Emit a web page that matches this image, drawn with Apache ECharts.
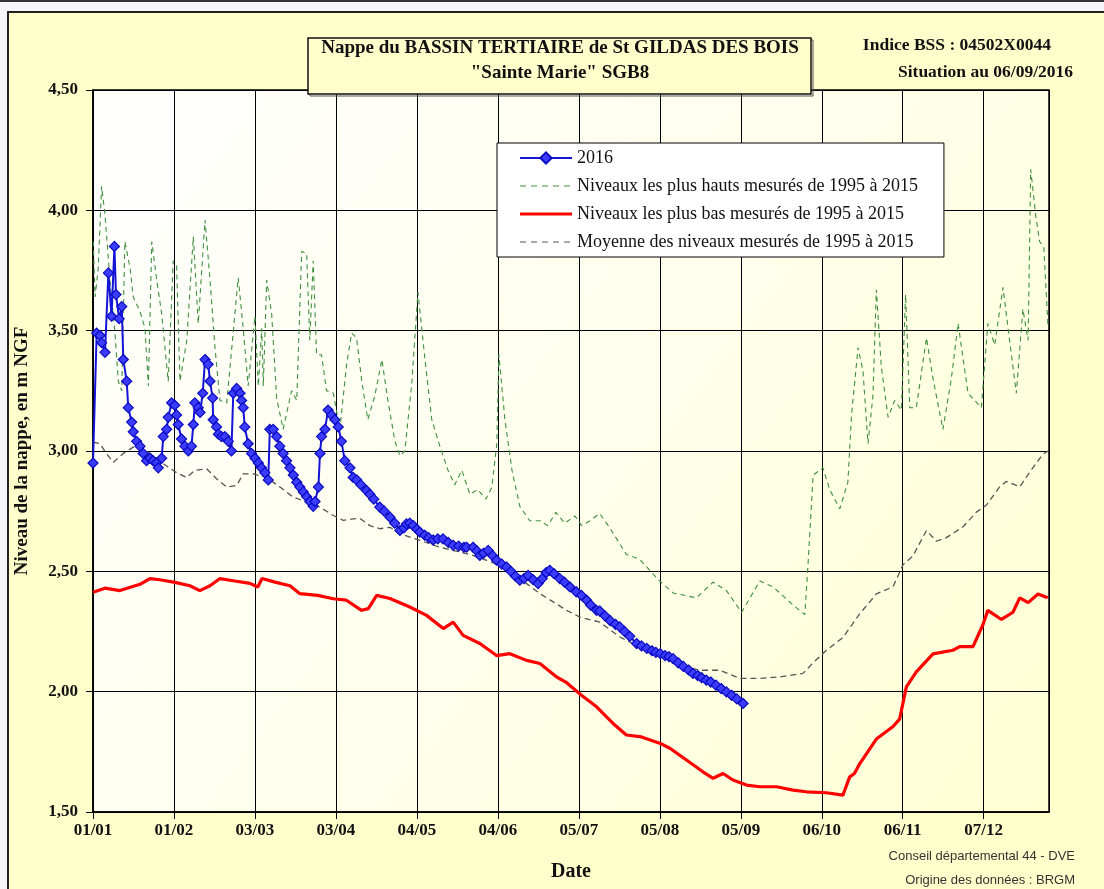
<!DOCTYPE html>
<html><head><meta charset="utf-8">
<script src="https://cdn.jsdelivr.net/npm/echarts@6/dist/echarts.min.js"></script>
<style>html,body{margin:0;padding:0;background:#fff}#c{width:1104px;height:889px}</style>
</head><body><div id="c"></div>
<script>
// Tick labels of the date axis (one every 31 days from 01/01)
const xTickLabels = ['01/01','01/02','03/03','03/04','04/05','04/06','05/07','05/08','05/09','06/10','06/11','07/12'];
const legendNames = ['2016','Niveaux les plus hauts mesurés de 1995 à 2015','Niveaux les plus bas mesurés de 1995 à 2015','Moyenne des niveaux mesurés de 1995 à 2015'];

// [day of year, level m NGF]
const series2016 = [[0,2.95],[1.4,3.49],[2.7,3.48],[3.3,3.45],[4.6,3.41],[5.9,3.74],[7.1,3.56],[8.2,3.85],[8.8,3.65],[10,3.55],[11,3.60],[11.6,3.38],[12.9,3.29],[13.5,3.18],[14.8,3.12],[15.4,3.08],[16.7,3.04],[18,3.02],[19.2,2.99],[20.5,2.96],[21.8,2.97],[23,2.96],[24.3,2.95],[25,2.93],[26.3,2.97],[26.9,3.06],[28.2,3.09],[28.8,3.14],[30.1,3.20],[31.3,3.19],[32,3.15],[32.6,3.11],[33.9,3.05],[35.2,3.02],[36.5,3.00],[37.7,3.02],[38.4,3.11],[39,3.20],[40.3,3.18],[41,3.16],[42,3.24],[42.9,3.38],[44.1,3.36],[44.8,3.29],[45.8,3.22],[46,3.13],[47.3,3.10],[48,3.07],[49.2,3.06],[50.5,3.06],[51.8,3.04],[53,3.00],[53.7,3.24],[55,3.26],[56.3,3.24],[56.9,3.21],[57.5,3.18],[58.1,3.10],[59.4,3.03],[60.7,2.99],[62,2.97],[63.3,2.95],[64.5,2.93],[65.8,2.91],[67.1,2.88],[67.7,3.09],[69,3.09],[70.3,3.06],[71.5,3.02],[72.8,2.99],[74.1,2.96],[75.4,2.93],[76.7,2.90],[78,2.87],[79.2,2.85],[80.5,2.83],[81.8,2.81],[83,2.79],[84.3,2.77],[85,2.79],[86.3,2.85],[86.9,2.99],[87.5,3.06],[88.8,3.09],[90,3.17],[91.3,3.15],[92.6,3.13],[93.9,3.10],[95.1,3.04],[96.4,2.96],[98.4,2.93],[99.6,2.89],[101,2.88],[102.5,2.86],[104.7,2.836],[106,2.82],[107.5,2.80],[109.8,2.767],[111.5,2.75],[113.7,2.725],[115.5,2.70],[117.5,2.67],[119,2.68],[120,2.697],[121.3,2.70],[122.6,2.69],[124,2.675],[125.1,2.663],[127,2.65],[128.5,2.64],[130.2,2.63],[132,2.635],[134,2.635],[136,2.62],[137.9,2.608],[140,2.605],[142,2.60],[143,2.60],[145.5,2.60],[147,2.585],[148.1,2.566],[149.5,2.575],[151.3,2.587],[153,2.565],[154.5,2.546],[156.5,2.53],[158.3,2.518],[160,2.50],[161.7,2.48],[163.4,2.463],[165,2.47],[166.6,2.483],[168.5,2.465],[170.4,2.449],[172,2.47],[173.5,2.495],[174.9,2.504],[176.5,2.49],[178.7,2.47],[180.5,2.455],[182.6,2.435],[185,2.415],[187,2.40],[189,2.38],[190.5,2.36],[192.8,2.338],[194,2.335],[196,2.315],[198,2.295],[200,2.28],[201.7,2.269],[203.5,2.25],[205.5,2.23],[208.1,2.20],[210,2.19],[212,2.18],[214,2.17],[215.5,2.163],[217.2,2.158],[219,2.15],[220.5,2.145],[222.1,2.137],[224,2.12],[226,2.105],[228,2.09],[229.7,2.076],[231.5,2.067],[233,2.058],[234.8,2.048],[236.5,2.04],[238.5,2.027],[240.5,2.013],[242.5,1.999],[244.5,1.985],[246.5,1.97],[248.9,1.951]];

const seriesMax = [[0.1,3.87],[0.8,3.64],[2.0,3.76],[3.3,4.10],[4.6,3.98],[6.5,3.71],[8.4,3.49],[9.7,3.29],[11,3.25],[12.2,3.87],[14.2,3.76],[15.4,3.64],[18,3.58],[19.9,3.51],[21.2,3.27],[22.5,3.87],[24.4,3.71],[26.3,3.57],[28.8,3.29],[30.7,3.79],[32,3.77],[33.3,3.29],[35.9,3.46],[38.4,3.89],[40.3,3.53],[42.9,3.96],[44.8,3.71],[46.7,3.43],[48.6,3.21],[51.2,3.20],[55.6,3.72],[57.5,3.51],[59.4,3.27],[62,3.56],[63.3,3.27],[64.6,3.51],[65.2,3.27],[66.5,3.71],[68.4,3.57],[70.3,3.22],[72.8,3.09],[76,3.25],[78,3.21],[79.9,3.83],[81.8,3.82],[83,3.46],[84.3,3.79],[85.6,3.40],[87.5,3.40],[89.4,3.25],[92,3.24],[94.5,3.09],[97.1,3.36],[99,3.49],[100.9,3.47],[102.9,3.29],[105.2,3.13],[107.9,3.23],[110.6,3.38],[112.9,3.21],[115.6,3.04],[117.5,2.98],[119.4,3.0],[122.1,3.29],[124.4,3.66],[127.1,3.38],[129.7,3.13],[132.8,3.02],[135.9,2.92],[138.5,2.86],[141.2,2.92],[144.3,2.82],[147.3,2.84],[150.4,2.80],[152.7,2.85],[154.6,3.03],[155.4,3.40],[157.7,3.13],[160.4,2.92],[163.4,2.77],[167.2,2.71],[171.1,2.71],[174.1,2.69],[177.2,2.745],[180.6,2.70],[184.5,2.73],[187.1,2.69],[190.2,2.71],[194,2.74],[197.9,2.68],[204.2,2.57],[209.3,2.55],[216.9,2.46],[222.1,2.41],[231,2.39],[237.4,2.455],[242.5,2.42],[248.3,2.33],[255.3,2.46],[260.4,2.435],[268,2.36],[272.5,2.32],[273.7,2.52],[275.7,2.90],[279.5,2.93],[282,2.84],[285.9,2.76],[289,2.87],[290.4,3.15],[292.9,3.43],[294.8,3.33],[296.7,3.03],[298.6,3.23],[299.9,3.67],[301.8,3.35],[304.4,3.14],[306.9,3.21],[309.5,3.17],[311.1,3.65],[312.7,3.18],[315.2,3.18],[319.1,3.47],[321.6,3.30],[325.4,3.09],[328.6,3.30],[331.2,3.53],[335,3.24],[340.1,3.18],[342.6,3.53],[345.2,3.44],[348.4,3.68],[350.9,3.46],[353.5,3.24],[356,3.59],[358,3.46],[359,4.17],[360.9,3.98],[362.4,3.87],[364,3.85],[365.6,3.52]];

const seriesMin = [[0,2.413],[4.6,2.43],[10.3,2.42],[18,2.446],[21.8,2.47],[25.6,2.465],[31.4,2.454],[37.1,2.44],[40.9,2.42],[44.8,2.44],[48.6,2.47],[54.3,2.46],[60.1,2.45],[63.1,2.435],[64.7,2.47],[69.7,2.455],[75.4,2.44],[79.2,2.407],[86,2.40],[92,2.386],[97,2.38],[102.8,2.338],[105.4,2.345],[108.6,2.40],[113.7,2.387],[121.3,2.352],[127.7,2.317],[134.1,2.262],[137.9,2.289],[141.7,2.234],[148.1,2.20],[154.5,2.15],[159.6,2.158],[166,2.13],[171.1,2.117],[177.5,2.061],[181,2.04],[187,1.985],[192.8,1.937],[199.1,1.868],[204.2,1.82],[210,1.812],[217.2,1.785],[221,1.764],[227.2,1.716],[233.5,1.667],[237.4,1.64],[241.2,1.66],[245,1.633],[250.2,1.612],[255.3,1.605],[261.7,1.605],[268,1.591],[273.1,1.584],[280.8,1.58],[287.1,1.57],[289.7,1.646],[291.5,1.66],[293.5,1.70],[299.9,1.803],[306.3,1.855],[308.8,1.886],[311.4,2.02],[315.2,2.082],[321.6,2.157],[329.2,2.172],[331.8,2.187],[336.9,2.187],[340.7,2.278],[342.6,2.338],[347.8,2.30],[352.2,2.33],[354.8,2.39],[358,2.37],[361.8,2.406],[365.5,2.39]];

const seriesMean = [[0,3.037],[2.7,3.03],[5.2,2.988],[7.8,2.953],[11.6,2.99],[15.4,3.016],[20.6,3.0],[26.9,2.947],[32,2.91],[35.9,2.89],[39,2.92],[43.5,2.926],[47.3,2.885],[51.2,2.85],[55,2.857],[57.5,2.905],[61.3,2.905],[66.5,2.89],[71.6,2.85],[76.7,2.808],[81.8,2.788],[86.9,2.767],[92,2.732],[95.8,2.712],[99.6,2.718],[102.2,2.72],[106,2.69],[109.8,2.677],[113.7,2.683],[117.5,2.656],[125.1,2.629],[132.8,2.6],[140.5,2.58],[145.5,2.566],[150.7,2.546],[155.8,2.525],[160.9,2.49],[166,2.449],[171.1,2.407],[176.2,2.373],[181.3,2.338],[186.4,2.31],[194,2.289],[201.7,2.227],[209.3,2.186],[217.2,2.158],[224.6,2.11],[232.3,2.089],[240,2.089],[247.6,2.055],[255.3,2.055],[262.9,2.061],[271.8,2.076],[275.7,2.12],[280.8,2.172],[287.1,2.225],[293.5,2.323],[299.9,2.406],[306.3,2.436],[310.1,2.527],[313.9,2.564],[319.1,2.67],[322.9,2.625],[326.7,2.64],[333.1,2.685],[338.2,2.746],[342.1,2.776],[347.1,2.851],[349.7,2.874],[354.8,2.851],[358.6,2.912],[363.7,2.987],[365.6,3.0]];

const SERIF = "'Liberation Serif','Times New Roman',serif";
const SANS = "'Liberation Sans',Arial,sans-serif";

// legend line icons (52 x 14 box, tiny anchors at the corners keep the box size)
const ANCH = 'M0,0h0.02v0.02h-0.02z M51.98,13.98h0.02v0.02h-0.02z ';
const ICON_DASH = 'path://' + ANCH + 'M0,6.4h6v1.2h-6z M11,6.4h6v1.2h-6z M22,6.4h6v1.2h-6z M33,6.4h6v1.2h-6z M44,6.4h6v1.2h-6z';
const ICON_SOLID = 'path://' + ANCH + 'M0,5.5h52v3h-52z';

const chart = echarts.init(document.getElementById('c'), null, {renderer:'canvas'});
chart.setOption({
  animation: false,
  backgroundColor: '#FFFFCC',
  grid: {
    left: 93, top: 90, width: 956, height: 722, show: true,
    borderColor: '#000', borderWidth: 1.5,
    backgroundColor: {type:'linear', x:0, y:0, x2:1, y2:1,
      colorStops:[{offset:0,color:'#FFFFFF'},{offset:0.55,color:'#FFFFEA'},{offset:1,color:'#FFFFD4'}]}
  },
  legend: {
    data: [
      {name: legendNames[0]},
      {name: legendNames[1], icon: ICON_DASH},
      {name: legendNames[2], icon: ICON_SOLID},
      {name: legendNames[3], icon: ICON_DASH}
    ],
    orient: 'vertical', left: 497, top: 143,
    padding: [6, 26, 6, 22], itemGap: 10, itemWidth: 52, itemHeight: 14,
    backgroundColor: '#FFFFFF', borderColor: '#000', borderWidth: 1,
    textStyle: {fontFamily: SERIF, fontSize: 18, color: '#111'}
  },
  xAxis: {
    type: 'value', min: 0, max: 366, interval: 31,
    axisLine: {show: true, lineStyle: {color: '#000', width: 1.5}},
    axisTick: {show: true, length: 7, lineStyle: {color: '#000'}},
    splitLine: {show: true, lineStyle: {color: '#000', width: 1}},
    axisLabel: {showMaxLabel: false, margin: 10, fontFamily: SERIF, fontWeight: 'bold', fontSize: 17, color: '#111',
      formatter: v => { const i = Math.round(v / 31); return (Math.abs(v - i*31) < 0.01 && xTickLabels[i]) ? xTickLabels[i] : ''; }},
    name: 'Date', nameLocation: 'middle', nameGap: 50,
    nameTextStyle: {fontFamily: SERIF, fontWeight: 'bold', fontSize: 20, color: '#111'}
  },
  yAxis: {
    type: 'value', min: 1.5, max: 4.5, interval: 0.5,
    axisLine: {show: true, lineStyle: {color: '#000', width: 1.5}},
    axisTick: {show: true, length: 7, lineStyle: {color: '#000'}},
    splitLine: {show: true, lineStyle: {color: '#000', width: 1}},
    axisLabel: {margin: 15, fontFamily: SERIF, fontWeight: 'bold', fontSize: 17, color: '#111',
      formatter: v => v.toFixed(2).replace('.', ',')},
    name: 'Niveau de la nappe, en m NGF', nameLocation: 'middle', nameGap: 61, nameRotate: 90,
    nameTextStyle: {fontFamily: SERIF, fontWeight: 'bold', fontSize: 19, color: '#111'}
  },
  series: [
    {name: legendNames[0], type: 'line', data: series2016, z: 5,
     symbol: 'diamond', symbolSize: 10, showSymbol: true,
     lineStyle: {color: '#1414d8', width: 2},
     itemStyle: {color: '#3c3cff', borderColor: '#0a0ac0', borderWidth: 1.2}},
    {name: legendNames[1], type: 'line', data: seriesMax, z: 3, showSymbol: false, symbol: 'none',
     lineStyle: {color: '#3f8f3f', width: 1.1, type: [5, 4]}, itemStyle: {color: '#3f8f3f'}},
    {name: legendNames[2], type: 'line', data: seriesMin, z: 4, showSymbol: false, symbol: 'none',
     lineStyle: {color: '#ff0000', width: 3.2}, itemStyle: {color: '#ff0000'}},
    {name: legendNames[3], type: 'line', data: seriesMean, z: 3, showSymbol: false, symbol: 'none',
     lineStyle: {color: '#555555', width: 1.3, type: [6, 4]}, itemStyle: {color: '#555555'}}
  ],
  graphic: [
    {type: 'rect', shape: {x: 0, y: 0, width: 1104, height: 11}, style: {fill: '#F6F6FA'}, silent: true},
    {type: 'rect', shape: {x: 0, y: 0, width: 7, height: 889}, style: {fill: '#F6F6FA'}, silent: true},
    {type: 'line', shape: {x1: 0, y1: 1, x2: 1104, y2: 1}, style: {stroke: '#333', lineWidth: 2}, silent: true},
    {type: 'polyline', shape: {points: [[8, 889], [8, 12], [1104, 12]]}, style: {stroke: '#222', lineWidth: 2, fill: null}, silent: true},
    {type: 'rect', shape: {x: 310, y: 40, width: 503, height: 56}, style: {fill: 'none', stroke: '#555', lineWidth: 1}, silent: true, z: 10},
    {type: 'rect', shape: {x: 308, y: 38, width: 503, height: 56}, style: {fill: '#FFFFCC', stroke: '#111', lineWidth: 1.5}, silent: true, z: 11},
    {type: 'text', x: 560, y: 48, z: 12, style: {text: 'Nappe du BASSIN TERTIAIRE de St GILDAS DES BOIS', font: 'bold 19px ' + SERIF, fill: '#111', textAlign: 'center', textVerticalAlign: 'middle'}},
    {type: 'text', x: 560, y: 73, z: 12, style: {text: '"Sainte Marie" SGB8', font: 'bold 19px ' + SERIF, fill: '#111', textAlign: 'center', textVerticalAlign: 'middle'}},
    {type: 'text', x: 1051, y: 45, z: 12, style: {text: 'Indice BSS : 04502X0044', font: 'bold 17.5px ' + SERIF, fill: '#111', textAlign: 'right', textVerticalAlign: 'middle'}},
    {type: 'text', x: 1073, y: 72, z: 12, style: {text: 'Situation au 06/09/2016', font: 'bold 17.5px ' + SERIF, fill: '#111', textAlign: 'right', textVerticalAlign: 'middle'}},
    {type: 'text', x: 1075, y: 856, z: 12, style: {text: 'Conseil départemental 44 - DVE', font: '13px ' + SANS, fill: '#333', textAlign: 'right', textVerticalAlign: 'middle'}},
    {type: 'text', x: 1075, y: 880, z: 12, style: {text: 'Origine des données : BRGM', font: '13px ' + SANS, fill: '#333', textAlign: 'right', textVerticalAlign: 'middle'}}
  ]
});
</script></body></html>
